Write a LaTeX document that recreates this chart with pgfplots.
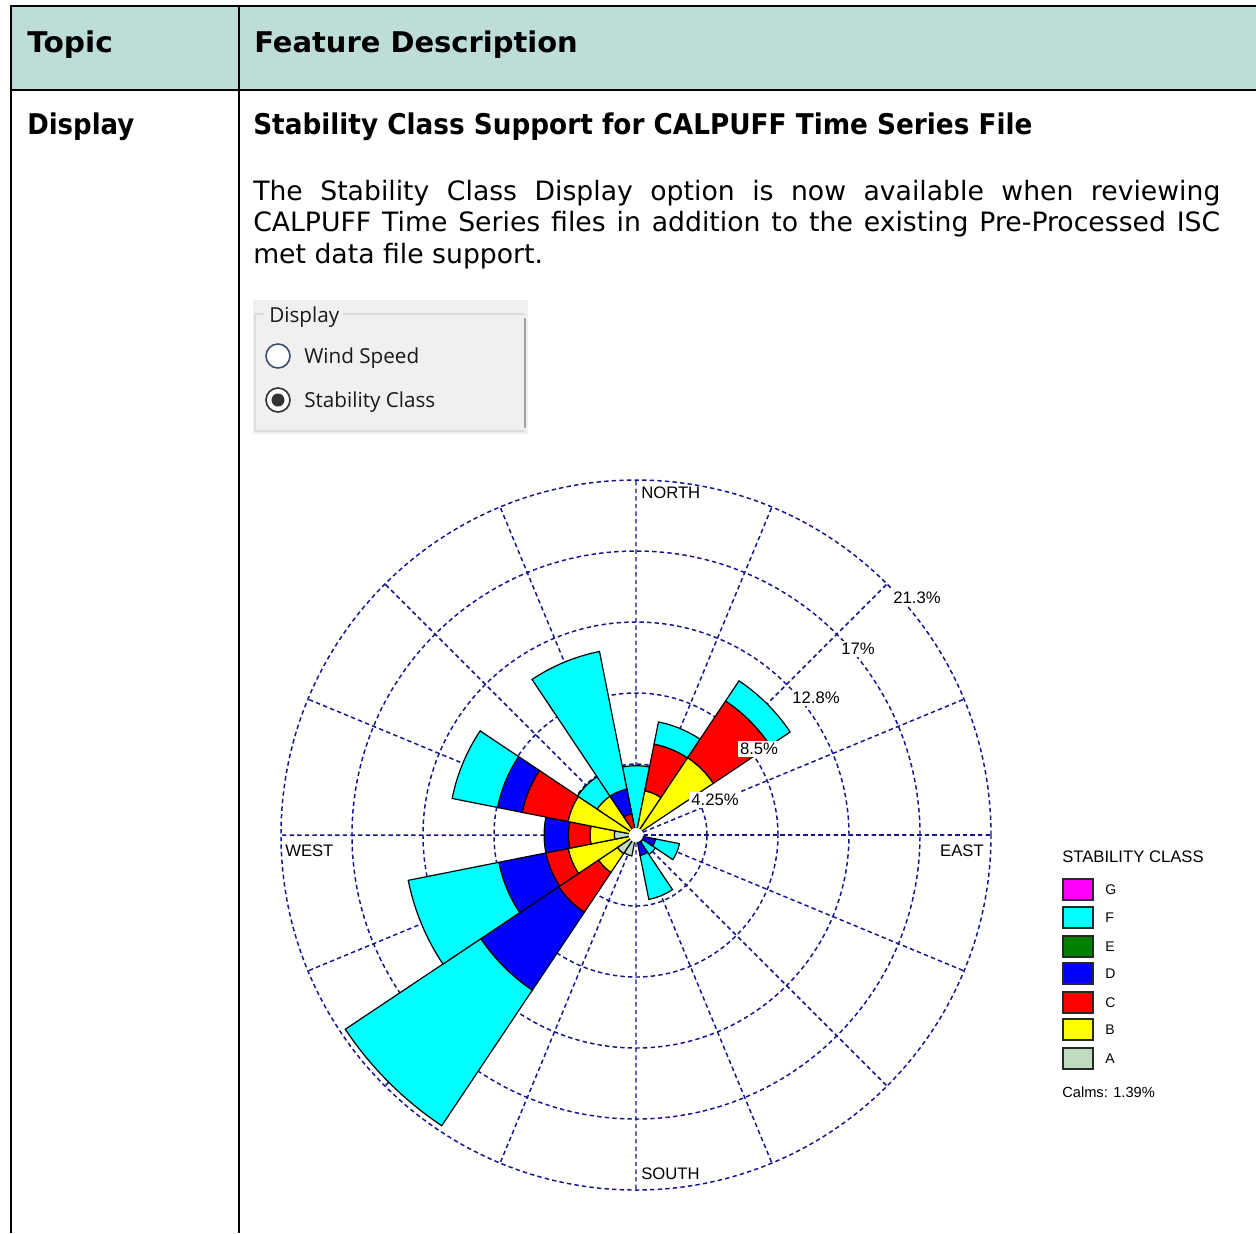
\documentclass[border=0pt]{standalone}
\usepackage{pgfplots}
\pgfplotsset{compat=1.18}
\usepackage{pgfplotstable}
\usepgfplotslibrary{polar}
\usetikzlibrary{calc}
\usepackage{fontspec}
\setmainfont{DejaVu Sans}
\newfontfamily\arial{Liberation Sans}
\newfontfamily\ui{Open Sans}

\definecolor{hdr}{RGB}{190,221,216}
\definecolor{gridblue}{RGB}{20,20,140}
\definecolor{uibg}{RGB}{240,240,240}
\definecolor{uiline}{RGB}{220,220,220}
\definecolor{uidark}{RGB}{160,160,160}
\definecolor{uitext}{RGB}{25,25,25}
\definecolor{radioA}{RGB}{60,80,105}
\definecolor{radioB}{RGB}{50,50,50}
\definecolor{legline}{RGB}{40,40,40}
\definecolor{clsA}{RGB}{192,220,192}
\definecolor{clsB}{RGB}{255,255,0}
\definecolor{clsC}{RGB}{255,0,0}
\definecolor{clsD}{RGB}{0,0,255}
\definecolor{clsE}{RGB}{0,128,0}
\definecolor{clsF}{RGB}{0,255,255}
\definecolor{clsG}{RGB}{255,0,255}

% frequency (%) of each stability class, by direction (compass degrees)
\pgfplotstableread{
dir   A    B    C    D    E  F    G
0     0    0    0    0    0  4.15 0
22.5  0    2.7  2.85 0    0  1.35 0
45    0    5.57 4.08 0    0  1.45 0
67.5  0    0    0    0    0  0    0
90    0    0    0    0    0  0    0
112.5 0    0    0    1.2  0  1.45 0
135   0    0    0    0.5  0  0.9  0
157.5 0    0    0    1.25 0  2.68 0
180   0    0    0    0    0  0    0
202.5 1.28 0    0    0    0  0    0
225   1.34 1.36 2.87 5.6  0  9.76 0
247.5 0    4.14 1.36 2.87 0  5.53 0
270   1.3  1.45 1.3  1.45 0  0    0
292.5 0    4.15 2.8  1.5  0  2.77 0
315   0    2.8  0    0    0  1.4  0
337.5 0    0    1.3  1.5  0  8.4  0
}\rosedata

% one petal segment: compass dir, inner r, outer r, colour
\newcommand\sector[4]{%
  \pgfmathsetmacro\ta{90-#1+11.25}%
  \pgfmathsetmacro\tb{90-#1-11.25}%
  \path[fill=#4, draw=black, line width=0.9pt]
    let \p1=(axis cs:0,0), \p2=(axis cs:90,#3), \p3=(axis cs:90,#2) in
    (axis cs:\ta,#2) -- (axis cs:\ta,#3)
    arc[start angle=\ta, end angle=\tb, radius={\y2-\y1}]
    -- (axis cs:\tb,#2)
    arc[start angle=\tb, end angle=\ta, radius={\y3-\y1}] -- cycle;
}

\begin{document}
\begin{tikzpicture}[x=0.75pt, y=-0.75pt]
\path[use as bounding box] (0,0) rectangle (1256,1233);
\clip (0,0) rectangle (1256,1233);

% table
\fill[hdr] (11,6) rectangle (1256,90);
\draw[line width=1.5pt] (10,6) -- (1256,6);
\draw[line width=1.5pt] (11,5) -- (11,1233);
\draw[line width=1.5pt] (239,5) -- (239,1233);
\draw[line width=1.5pt] (10,90) -- (1256,90);

\begin{scope}[every node/.style={anchor=base west, inner sep=0pt}]
\node[font=\fontsize{21.4}{25}\selectfont\bfseries] at (27,52) {\scalebox{1.04}[1]{Topic}};
\node[font=\fontsize{21.4}{25}\selectfont\bfseries] at (254,52) {\scalebox{1.015}[1]{Feature Description}};
\node[font=\fontsize{21.4}{25}\selectfont\bfseries] at (27,134) {\scalebox{0.91}[1]{Display}};
\node[font=\fontsize{21.4}{25}\selectfont\bfseries] at (253,134) {\scalebox{0.922}[1]{Stability Class Support for CALPUFF Time Series File}};
\node[font=\fontsize{20}{24}\selectfont] at (253,200) {\makebox[725.25pt][s]{The Stability Class Display option is now available when reviewing}};
\node[font=\fontsize{20}{24}\selectfont] at (253,231) {\makebox[725.25pt][s]{CALPUFF Time Series files in addition to the existing Pre-Processed ISC}};
\node[font=\fontsize{20}{24}\selectfont] at (253,263) {met data file support.};
\end{scope}

% display option box
\fill[uibg] (253,300) rectangle (528,434);
\draw[uiline, line width=0.9pt] (264,314) -- (255,314) -- (255,431) -- (525,431);
\draw[uiline, line width=0.9pt] (343,314) -- (525,314);
\draw[uidark, line width=1pt] (525,318) -- (525,428);
\begin{scope}[every node/.style={anchor=base west, inner sep=0pt, font=\ui\fontsize{15.5}{18}\selectfont, text=uitext}]
\node at (269,322) {Display};
\node at (304,363) {Wind Speed};
\node at (304,407) {Stability Class};
\end{scope}
\draw[fill=white, draw=radioA, line width=1.2pt] (278,356) circle (12);
\draw[fill=white, draw=radioB, line width=1.2pt] (278,400) circle (12);
\fill[radioB] (278,400) circle (6.5);

% wind rose
\coordinate (rosec) at (636,835);
\begin{polaraxis}[
  at={(rosec)}, anchor=origin,
  scale only axis, width=532.5pt, height=532.5pt,
  ymin=0, ymax=21.25,
  xtick={0,22.5,...,337.5},
  ytick={4.25,8.5,12.75,17},
  xticklabels={}, yticklabels={},
  major tick length=0pt,
  grid=major,
  major grid style={gridblue, line width=1.1pt, dash pattern=on 3.3pt off 2.4pt},
  axis line style={gridblue, line width=1.1pt, dash pattern=on 3.3pt off 2.4pt},
]
\pgfplotsextra{
  \pgfplotstablegetrowsof{\rosedata}
  \pgfmathtruncatemacro\nrows{\pgfplotsretval-1}
  \foreach \i in {0,...,\nrows}{
    \pgfplotstablegetelem{\i}{dir}\of\rosedata
    \let\dir\pgfplotsretval
    \gdef\rin{0}
    \foreach \cls/\col in {A/clsA,B/clsB,C/clsC,D/clsD,E/clsE,F/clsF,G/clsG}{
      \pgfplotstablegetelem{\i}{\cls}\of\rosedata
      \pgfmathtruncatemacro\pos{\pgfplotsretval>0}
      \pgfmathsetmacro\rout{\rin+\pgfplotsretval}
      \ifnum\pos=1 \sector{\dir}{\rin}{\rout}{\col}\fi
      \xdef\rin{\rout}
    }
  }
  \fill[white] (axis cs:0,0) circle (5.3pt);
}
\end{polaraxis}

% compass and ring labels
\begin{scope}[every node/.style={inner sep=0pt, font=\arial\fontsize{12.5}{14}\selectfont}]
\node[anchor=west] at (641,493) {NORTH};
\node[anchor=west] at (641,1174) {SOUTH};
\node[anchor=west] at (285,851) {WEST};
\node[anchor=east] at (984,851) {EAST};
\end{scope}
\begin{scope}[every node/.style={inner sep=1.5pt, fill=white, font=\arial\fontsize{12.5}{14}\selectfont}]
\node at (715,800) {4.25\%};
\node at (759,749) {8.5\%};
\node at (816,698) {12.8\%};
\node at (858,649) {17\%};
\node at (917,598) {21.3\%};
\end{scope}

% legend
\node[anchor=base west, inner sep=0pt, font=\arial\fontsize{12.5}{14}\selectfont] at (1062,862) {STABILITY CLASS};
\foreach \c/\l/\y in {clsG/G/879,clsF/F/907,clsE/E/936,clsD/D/963,clsC/C/992,clsB/B/1019,clsA/A/1048}{
  \draw[fill=\c, draw=legline, line width=1.3pt] (1063,\y) rectangle (1093,\y+21);
  \node[anchor=west, inner sep=0pt, font=\arial\fontsize{10.5}{12}\selectfont] at (1105,\y+11) {\l};
}
\node[anchor=base west, inner sep=0pt, font=\arial\fontsize{11}{13}\selectfont] at (1062,1097) {Calms: 1.39\%};
\end{tikzpicture}
\end{document}
